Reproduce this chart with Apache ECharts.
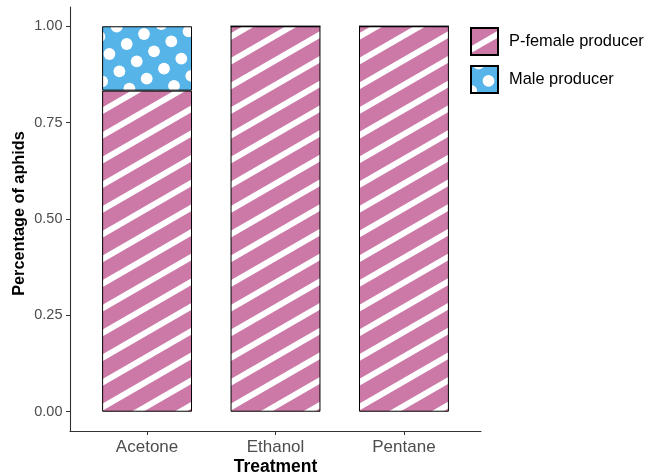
<!DOCTYPE html>
<html>
<head>
<meta charset="utf-8">
<script src="https://cdn.jsdelivr.net/npm/echarts@6/dist/echarts.min.js"></script>
<style>
  html, body { margin: 0; padding: 0; background: #fff; }
  #main { width: 646px; height: 476px; }
</style>
</head>
<body>
<div id="main"></div>
<script>
// data
var treatments = ["Acetone", "Ethanol", "Pentane"];
var pFemale = [0.833, 1.0, 1.0];
var maleProducer = [0.167, 0, 0];
var yTicks = [0, 0.25, 0.5, 0.75, 1];
var xTickPos = [1, 2, 3];

var W = 646, H = 476;

// pattern: pink with white diagonal stripes (~30 deg)
function stripeCanvas() {
  var c = document.createElement("canvas");
  c.width = W; c.height = H;
  var ctx = c.getContext("2d");
  ctx.fillStyle = "#CC79A7";
  ctx.fillRect(0, 0, W, H);
  ctx.strokeStyle = "#fff";
  ctx.lineWidth = 6;
  var t = Math.tan(Math.PI / 6);
  var period = 24.7;
  for (var k = -5; k < 50; k++) {
    var c0 = 21.7 + k * period;
    ctx.beginPath();
    ctx.moveTo(0, c0);
    ctx.lineTo(W, c0 - W * t);
    ctx.stroke();
  }
  return c;
}

// pattern: blue with white dots on a rotated square lattice
function dotCanvas() {
  var c = document.createElement("canvas");
  c.width = W; c.height = H;
  var ctx = c.getContext("2d");
  ctx.fillStyle = "#56B4E9";
  ctx.fillRect(0, 0, W, H);
  ctx.fillStyle = "#fff";
  for (var i = -60; i <= 60; i++) {
    for (var j = -60; j <= 60; j++) {
      var x = 116.7 + i * 17.3 + j * 10;
      var y = 26.7 - i * 10 + j * 17.3;
      if (x < -10 || x > W + 10 || y < -10 || y > H + 10) continue;
      ctx.beginPath();
      ctx.arc(x, y, 5.9, 0, Math.PI * 2);
      ctx.fill();
    }
  }
  return c;
}

var myChart = echarts.init(document.getElementById("main"));
var band = 411 / 3.2; // ggplot 0.6 expansion on discrete axis

var option = {
  animation: false,
  textStyle: { fontFamily: "Liberation Sans, Arial, sans-serif" },
  legend: {
    orient: "vertical",
    left: 470,
    top: 27,
    padding: 0,
    itemWidth: 27,
    itemHeight: 27,
    itemGap: 9,
    icon: "rect",
    textStyle: { fontSize: 16.4, color: "#000", padding: [0, 0, 0, 6] },
    data: ["P-female producer", "Male producer"]
  },
  grid: [
    { left: 70, right: 165, top: 7, bottom: 45, outerBoundsMode: "none", containLabel: false },
    { left: 70 + band * 0.1, right: 165 + band * 0.1, top: 7, bottom: 45, outerBoundsMode: "none", containLabel: false }
  ],
  xAxis: [
    {
      type: "value",
      gridIndex: 0,
      min: 0.4,
      max: 3.6,
      name: "Treatment",
      nameLocation: "middle",
      nameGap: 27,
      nameMoveOverlap: false,
      nameTextStyle: { fontSize: 17.5, fontWeight: "bold", color: "#000" },
      axisLine: { onZero: false, lineStyle: { color: "#333", width: 1.1 } },
      axisTick: { customValues: xTickPos, length: 4, lineStyle: { color: "#333" } },
      axisLabel: {
        customValues: xTickPos,
        fontSize: 17,
        color: "#4D4D4D",
        margin: 8,
        formatter: function (v) { return treatments[Math.round(v) - 1]; }
      },
      splitLine: { show: false }
    },
    {
      type: "category",
      gridIndex: 1,
      data: treatments,
      show: false
    }
  ],
  yAxis: [
    {
      type: "value",
      gridIndex: 0,
      min: -0.05,
      max: 1.05,
      name: "Percentage of aphids",
      nameLocation: "middle",
      nameGap: 42,
      nameMoveOverlap: false,
      nameTextStyle: { fontSize: 16.3, fontWeight: "bold", color: "#000", padding: [0, 0, 0, 11] },
      axisLine: { show: true, onZero: false, lineStyle: { color: "#333", width: 1.1 } },
      axisTick: { show: true, customValues: yTicks, length: 4, lineStyle: { color: "#333" } },
      axisLabel: {
        customValues: yTicks,
        fontSize: 14.5,
        color: "#4D4D4D",
        margin: 7.5,
        formatter: function (v) { return v.toFixed(2); }
      },
      splitLine: { show: false }
    },
    {
      type: "value",
      gridIndex: 1,
      min: -0.05,
      max: 1.05,
      show: false,
      splitLine: { show: false }
    }
  ],
  series: [
    {
      name: "P-female producer",
      type: "bar",
      xAxisIndex: 1,
      yAxisIndex: 1,
      stack: "total",
      barWidth: "70%",
      data: pFemale,
      itemStyle: {
        color: { image: stripeCanvas(), repeat: "repeat" },
        borderColor: "#000",
        borderWidth: 1
      }
    },
    {
      name: "Male producer",
      type: "bar",
      xAxisIndex: 1,
      yAxisIndex: 1,
      stack: "total",
      barWidth: "70%",
      data: maleProducer,
      itemStyle: {
        color: { image: dotCanvas(), repeat: "repeat" },
        borderColor: "#000",
        borderWidth: 1
      }
    }
  ]
};
myChart.setOption(option);
</script>
</body>
</html>
